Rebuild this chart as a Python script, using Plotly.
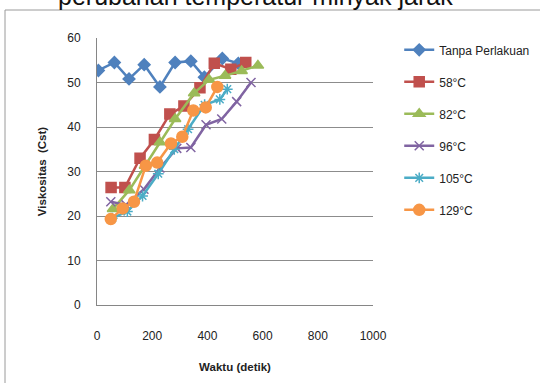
import plotly.graph_objects as go

x_tanpa = [5, 63, 116, 171, 228, 283, 340, 389, 454, 512]
y_tanpa = [52.7, 54.5, 50.8, 54.0, 49.0, 54.5, 54.8, 51.2, 55.4, 54.3]

x_58 = [51, 101, 156, 208, 264, 315, 373, 425, 485, 539]
y_58 = [26.4, 26.4, 33.0, 37.2, 42.9, 44.7, 48.8, 54.3, 53.0, 54.5]

x_82 = [58, 117, 174, 228, 283, 352, 406, 464, 524, 583]
y_82 = [21.6, 25.8, 31.3, 36.6, 41.8, 47.6, 50.6, 51.5, 52.6, 53.8]

x_96 = [50, 105, 170, 228, 289, 340, 395, 452, 506, 558]
y_96 = [23.2, 22.5, 26.0, 30.8, 35.2, 35.4, 40.5, 41.8, 45.7, 50.0]

x_105 = [55, 110, 165, 222, 280, 330, 390, 445, 472]
y_105 = [19.5, 21.0, 24.5, 29.5, 35.0, 39.5, 45.0, 46.2, 48.5]

x_129 = [50, 93, 134, 177, 218, 268, 309, 349, 394, 436]
y_129 = [19.3, 21.7, 23.2, 31.3, 32.0, 36.3, 37.8, 43.7, 44.4, 49.0]

names = ["Tanpa Perlakuan", "58°C", "82°C", "96°C", "105°C", "129°C"]
colors = ["#4F81BD", "#C0504D", "#9BBB59", "#8064A2", "#4BACC6", "#F79646"]
symbols = ["diamond", "square", "triangle-up", "x-thin-open", "asterisk-open", "circle"]
sizes = [9, 10, 10, 9, 9, 11]
xs = [x_tanpa, x_58, x_82, x_96, x_105, x_129]
ys = [y_tanpa, y_58, y_82, y_96, y_105, y_129]

fig = go.Figure()
for i in range(6):
    fig.add_trace(go.Scatter(
        x=xs[i], y=ys[i], name=names[i], mode="lines+markers",
        line=dict(color=colors[i], width=2.5),
        marker=dict(symbol=symbols[i], size=sizes[i], color=colors[i],
                    line=dict(color=colors[i], width=1.5)),
        legendgroup=str(i),
    ))

fig.update_layout(
    width=540, height=383,
    margin=dict(l=97, r=167, t=38, b=78, autoexpand=False),
    paper_bgcolor="white", plot_bgcolor="white",
    font=dict(family="Liberation Sans, Arial, sans-serif", size=11, color="#222"),
    showlegend=True,
    legend=dict(x=1.095, xanchor="left", y=1.01, yanchor="top",
                traceorder="grouped", tracegroupgap=13,
                font=dict(size=12, color="#222"), itemwidth=30,
                bgcolor="rgba(0,0,0,0)"),
    xaxis=dict(range=[0, 1000], tickvals=[0, 200, 400, 600, 800, 1000],
               showgrid=False, zeroline=False, showline=True, linecolor="#868686",
               linewidth=1, ticks="", ticklen=0, tickfont=dict(size=12),
               ticklabelstandoff=20, automargin=False,
               title=dict(text="<b>Waktu (detik)</b>", font=dict(size=11.5), standoff=20)),
    yaxis=dict(range=[0, 60], tickvals=[0, 10, 20, 30, 40, 50, 60],
               showgrid=True, gridcolor="#8c8c8c", gridwidth=1, zeroline=False,
               showline=True, linecolor="#868686", linewidth=1, ticks="",
               tickfont=dict(size=12), ticklabelstandoff=13, automargin=False,
               title=dict(text="<b>Viskositas  (Cst)</b>", font=dict(size=11.5), standoff=18)),
)

fig.add_shape(type="rect", xref="paper", yref="paper",
              x0=-92/276, x1=(600-97)/276, y0=-0.5, y1=(305-10)/267,
              line=dict(color="#9a9a9a", width=1), fillcolor="rgba(0,0,0,0)", layer="below")

fig.add_annotation(text="perubahan temperatur minyak jarak", xref="paper", yref="paper",
                   x=(255-97)/276, y=(305+4)/267, xanchor="center", yanchor="middle",
                   showarrow=False, font=dict(size=25, color="#111"))

fig.write_html("out.html")
